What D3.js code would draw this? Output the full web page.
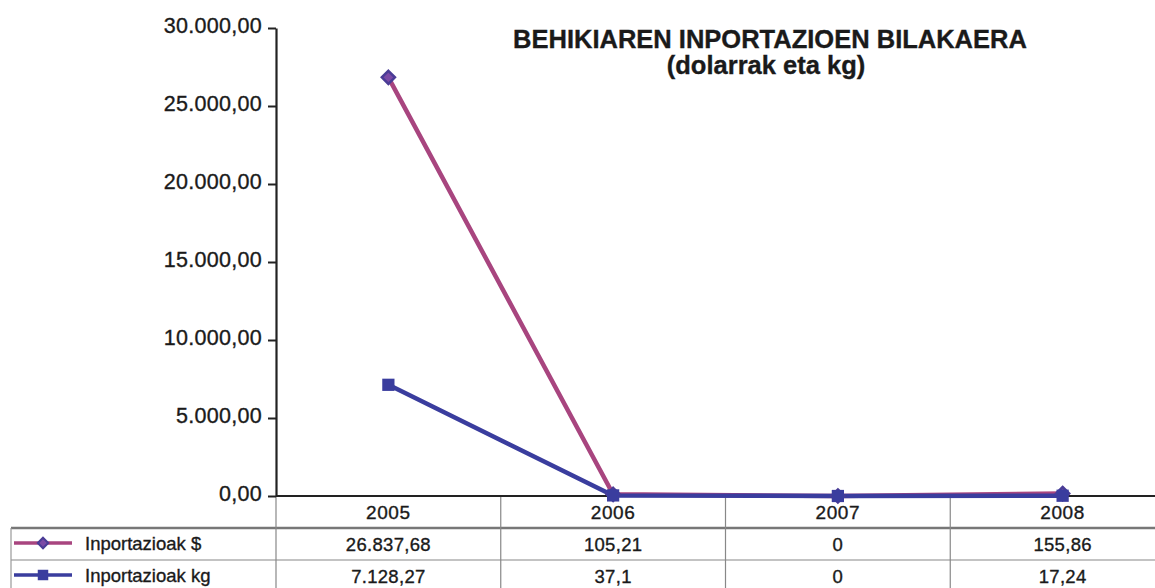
<!DOCTYPE html>
<html>
<head>
<meta charset="utf-8">
<script src="https://cdn.jsdelivr.net/npm/d3@7"></script>
<style>
  body { margin: 0; background: #fff; }
  svg { display: block; font-family: "Liberation Sans", Arial, sans-serif; }
  text { fill: #1a1a1a; stroke: #1a1a1a; stroke-width: 0.35px; }
</style>
</head>
<body>
<div id="chart"></div>
<script>
const years = ['2005', '2006', '2007', '2008']
const dollars = [26837.68, 105.21, 0, 155.86]
const kilos = [7128.27, 37.1, 0, 17.24]
const yTicks = [0, 5000, 10000, 15000, 20000, 25000, 30000]
const seriesNames = ['Inportazioak $', 'Inportazioak kg']

const width = 1155
const height = 588
const axisX = 276
const baseY = 496
const tableRows = [528, 560, 592]

const locale = d3.formatLocale({ decimal: ',', thousands: '.', grouping: [3], currency: ['', ''] })
const tickFmt = locale.format(',.2f')
const valFmt = locale.format(',.2~f')

const svg = d3.select('#chart')
  .append('svg')
  .attr('width', width)
  .attr('height', height)

const x = d3.scaleBand()
  .domain(years)
  .range([axisX, 1175])

const y = d3.scaleLinear()
  .domain([0, 30000])
  .range([baseY, 28])

// title
svg.append('text')
  .attr('x', 770).attr('y', 48)
  .attr('text-anchor', 'middle')
  .attr('font-size', 25.5).attr('font-weight', 'bold')
  .text('BEHIKIAREN INPORTAZIOEN BILAKAERA')
svg.append('text')
  .attr('x', 766).attr('y', 74)
  .attr('text-anchor', 'middle')
  .attr('font-size', 25.5).attr('font-weight', 'bold')
  .text('(dolarrak eta kg)')

// table grid
const grid = svg.append('g').attr('class', 'table')
grid.append('line')
  .attr('x1', 11).attr('x2', width).attr('y1', tableRows[0]).attr('y2', tableRows[0])
  .attr('stroke', '#777').attr('stroke-width', 2.5)
grid.append('line')
  .attr('x1', 11).attr('x2', width).attr('y1', tableRows[1]).attr('y2', tableRows[1])
  .attr('stroke', '#888').attr('stroke-width', 1.2)
grid.append('line')
  .attr('x1', 11).attr('x2', 11).attr('y1', tableRows[0]).attr('y2', height)
  .attr('stroke', '#999').attr('stroke-width', 1.2)
grid.selectAll('.col')
  .data(years)
  .enter().append('line')
  .attr('class', 'col')
  .attr('x1', d => x(d)).attr('x2', d => x(d))
  .attr('y1', baseY).attr('y2', height)
  .attr('stroke', '#888').attr('stroke-width', 1.2)

// year labels
grid.selectAll('.year')
  .data(years)
  .enter().append('text')
  .attr('class', 'year')
  .attr('x', d => x(d) + x.bandwidth() / 2)
  .attr('y', 519)
  .attr('text-anchor', 'middle')
  .attr('font-size', 19).attr('letter-spacing', 0.6)
  .text(d => d)

// value rows
;[dollars, kilos].forEach((vals, i) => {
  grid.selectAll(`.val${i}`)
    .data(vals)
    .enter().append('text')
    .attr('class', `val${i}`)
    .attr('x', (d, j) => x(years[j]) + x.bandwidth() / 2)
    .attr('y', (tableRows[i] + tableRows[i + 1]) / 2 + 6.5)
    .attr('text-anchor', 'middle')
    .attr('font-size', 18.5).attr('letter-spacing', 0.3)
    .text(d => valFmt(d))
})

// y axis
const yAxis = svg.append('g')
  .attr('transform', `translate(${axisX},0)`)
  .call(d3.axisLeft(y).tickValues(yTicks).tickFormat(tickFmt).tickSize(8).tickSizeOuter(0).tickPadding(6))
yAxis.select('.domain').attr('stroke', '#222').attr('stroke-width', 2.2)
yAxis.selectAll('.tick line').attr('stroke', '#222').attr('stroke-width', 2)
yAxis.selectAll('.tick text')
  .attr('font-size', 21.5).attr('letter-spacing', 0.3)
  .attr('font-family', '"Liberation Sans", Arial, sans-serif')
  .attr('dy', '0.22em')

// x baseline
svg.append('line')
  .attr('x1', axisX).attr('x2', width).attr('y1', y(0)).attr('y2', y(0))
  .attr('stroke', '#222').attr('stroke-width', 2.2)

const line = d3.line()
  .x((d, i) => x(years[i]) + x.bandwidth() / 2)
  .y(d => y(d))

const colors = { usd: '#a8457f', kg: '#3a3d9e', diamond: '#4a3c96' }

svg.append('path')
  .datum(dollars)
  .attr('d', line)
  .attr('fill', 'none')
  .attr('stroke', colors.usd)
  .attr('stroke-width', 4.5)

svg.append('path')
  .datum(kilos)
  .attr('d', line)
  .attr('fill', 'none')
  .attr('stroke', colors.kg)
  .attr('stroke-width', 4.5)

const diamond = d3.symbol().type(d3.symbolDiamond2).size(110)
const square = d3.symbol().type(d3.symbolSquare).size(150)

svg.selectAll('.pt-usd')
  .data(dollars)
  .enter().append('path')
  .attr('class', 'pt-usd')
  .attr('transform', (d, i) => `translate(${x(years[i]) + x.bandwidth() / 2},${y(d)})`)
  .attr('d', diamond)
  .attr('fill', '#7b4aa6')
  .attr('stroke', colors.diamond)
  .attr('stroke-width', 2.5)

svg.selectAll('.pt-kg')
  .data(kilos)
  .enter().append('path')
  .attr('class', 'pt-kg')
  .attr('transform', (d, i) => `translate(${x(years[i]) + x.bandwidth() / 2},${y(d)})`)
  .attr('d', square)
  .attr('fill', colors.kg)

// legend in the table
const legend = svg.append('g')
seriesNames.forEach((name, i) => {
  const cy = (tableRows[i] + tableRows[i + 1]) / 2 - 1
  legend.append('line')
    .attr('x1', 14).attr('x2', 72).attr('y1', cy).attr('y2', cy)
    .attr('stroke', i === 0 ? colors.usd : colors.kg)
    .attr('stroke-width', 3.5)
  legend.append('path')
    .attr('transform', `translate(43,${cy})`)
    .attr('d', i === 0 ? d3.symbol().type(d3.symbolDiamond2).size(70)() : d3.symbol().type(d3.symbolSquare).size(110)())
    .attr('fill', i === 0 ? '#7b4aa6' : colors.kg)
    .attr('stroke', i === 0 ? colors.diamond : 'none')
    .attr('stroke-width', 2)
  legend.append('text')
    .attr('x', 85).attr('y', cy + 6.5)
    .attr('font-size', 18.5)
    .text(name)
})
</script>
</body>
</html>
